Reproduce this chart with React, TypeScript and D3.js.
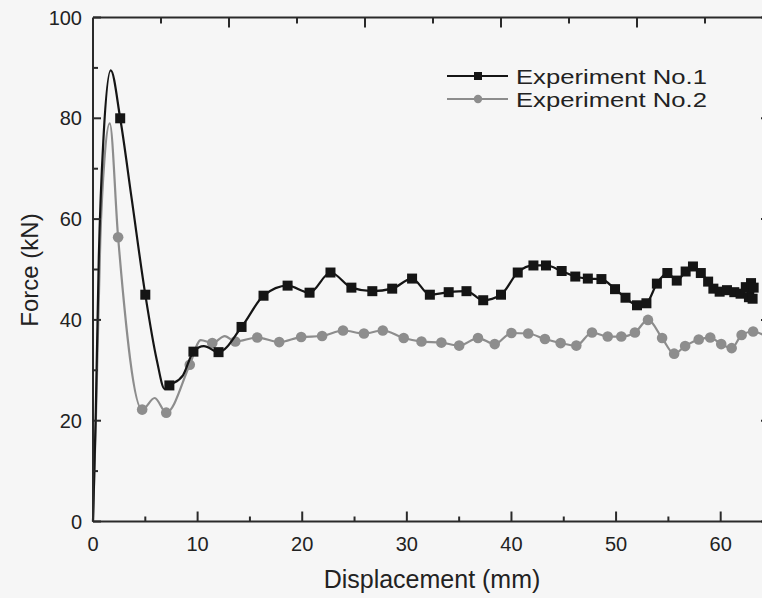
import React from "react";
import * as d3 from "d3";

// [displacement mm, force kN, marker?]
const exp1: [number, number, number][] = [
  [0, 0, 0], [0.25, 20, 0], [0.55, 52, 0], [1.0, 76, 0], [1.7, 89.5, 0], [2.6, 80, 1],
  [3.7, 64, 0], [5.0, 45, 1], [6.1, 32, 0], [6.85, 26.3, 0], [7.3, 27, 1], [8.6, 29, 0],
  [9.6, 33.7, 1], [10.6, 34.8, 0], [12.0, 33.6, 1], [14.2, 38.6, 1], [16.3, 44.8, 1],
  [18.6, 46.8, 1], [20.7, 45.4, 1], [22.7, 49.4, 1], [24.7, 46.4, 1], [26.7, 45.7, 1],
  [28.6, 46.2, 1], [30.5, 48.2, 1], [32.2, 45.0, 1], [34.0, 45.5, 1], [35.7, 45.7, 1],
  [37.3, 43.9, 1], [39.0, 45.0, 1], [40.6, 49.4, 1], [42.1, 50.8, 1], [43.3, 50.8, 1],
  [44.8, 49.7, 1], [46.1, 48.6, 1], [47.3, 48.2, 1], [48.6, 48.1, 1], [49.9, 46.1, 1],
  [50.9, 44.4, 1], [52.0, 42.9, 1], [52.9, 43.3, 1], [53.9, 47.2, 1], [54.9, 49.3, 1],
  [55.8, 47.8, 1], [56.65, 49.6, 1], [57.35, 50.6, 1], [58.1, 49.3, 1], [58.8, 47.6, 1],
  [59.3, 46.2, 1], [59.9, 45.6, 1], [60.6, 45.9, 1], [61.3, 45.5, 1], [61.9, 45.2, 1],
  [62.4, 46.5, 1], [62.7, 44.5, 1], [62.9, 47.3, 1], [63.05, 44.2, 1], [63.15, 46.4, 1],
];

const exp2: [number, number, number][] = [
  [0, 0, 0], [0.3, 22, 0], [0.7, 56, 0], [1.1, 72, 0], [1.6, 79, 0], [2.4, 56.4, 1],
  [4.7, 22.2, 1], [5.9, 24.5, 0], [7.0, 21.6, 1], [9.25, 31.1, 1],
  [10.3, 36, 0], [11.4, 35.4, 1], [12.6, 36.8, 0], [13.6, 35.7, 1], [15.7, 36.5, 1],
  [17.8, 35.6, 1], [19.9, 36.6, 1], [21.9, 36.8, 1], [23.9, 37.9, 1], [25.9, 37.3, 1],
  [27.7, 37.9, 1], [29.7, 36.4, 1], [31.4, 35.7, 1], [33.3, 35.5, 1], [35.0, 34.9, 1],
  [36.8, 36.4, 1], [38.4, 35.2, 1], [40.0, 37.4, 1], [41.6, 37.3, 1], [43.2, 36.2, 1],
  [44.7, 35.4, 1], [46.2, 34.9, 1], [47.7, 37.5, 1], [49.2, 36.7, 1], [50.5, 36.7, 1],
  [51.8, 37.5, 1], [53.05, 40.0, 1], [54.4, 36.4, 1], [55.55, 33.3, 1], [56.6, 34.8, 1],
  [57.9, 36.1, 1], [59.0, 36.5, 1], [60.05, 35.2, 1], [61.05, 34.4, 1], [62.0, 37.0, 1],
  [63.1, 37.7, 1], [64.5, 36.5, 0],
];

const xTicks = [0, 10, 20, 30, 40, 50, 60];
const xMinorTicks = [5, 15, 25, 35, 45, 55];
const yTicks = [0, 20, 40, 60, 80, 100];
const yMinorTicks = [10, 30, 50, 70, 90];
const topTicks = [6.5, 13, 19.5, 26, 32.5, 39, 45.5, 52, 58.5];
const legendLabels = ["Experiment No.1", "Experiment No.2"];
const xTitle = "Displacement (mm)";
const yTitle = "Force (kN)";

const W = 762;
const H = 598;
const left = 93;
const right = 773;
const top = 17.5;
const bottom = 521.5;
const FONT = "'Liberation Sans', Arial, Helvetica, sans-serif";
const BLACK = "#151515";
const GRAY = "#8d8d8d";
const AXIS = "#2a2a2a";

export default function App() {
  const x = d3.scaleLinear().domain([0, 65]).range([left, right]);
  const y = d3.scaleLinear().domain([0, 100]).range([bottom, top]);
  const line = d3
    .line<[number, number, number]>()
    .x((d) => x(d[0]))
    .y((d) => y(d[1]))
    .curve(d3.curveMonotoneX);

  return (
    <div style={{ position: "absolute", left: 0, top: 0, width: W, height: H, overflow: "hidden" }}>
      <svg width={W} height={H} style={{ display: "block" }} fontFamily={FONT}>
        <rect x={0} y={0} width={W} height={H} fill="#f6f6f6" />
        {/* series */}
        <path d={line(exp2) || ""} fill="none" stroke={GRAY} strokeWidth={2.2} />
        {exp2
          .filter((d) => d[2])
          .map((d, i) => (
            <circle key={"c" + i} cx={x(d[0])} cy={y(d[1])} r={5.3} fill={GRAY} />
          ))}
        <path d={line(exp1) || ""} fill="none" stroke={BLACK} strokeWidth={2.2} />
        {exp1
          .filter((d) => d[2])
          .map((d, i) => (
            <rect key={"s" + i} x={x(d[0]) - 5} y={y(d[1]) - 5} width={10} height={10} fill={BLACK} />
          ))}
        {/* axes frame */}
        <line x1={left} x2={right} y1={bottom} y2={bottom} stroke={AXIS} strokeWidth={2} />
        <line x1={left} x2={right} y1={top} y2={top} stroke={AXIS} strokeWidth={2} />
        <line x1={left} x2={left} y1={top} y2={bottom} stroke={AXIS} strokeWidth={2} />
        <line x1={right} x2={right} y1={top} y2={bottom} stroke={AXIS} strokeWidth={2} />
        {xTicks.map((t) => (
          <g key={"xt" + t}>
            <line x1={x(t)} x2={x(t)} y1={bottom} y2={bottom - 10} stroke={AXIS} strokeWidth={2} />
            <text x={x(t)} y={551} fontSize={20} textAnchor="middle" fill="#222">
              {t}
            </text>
          </g>
        ))}
        {xMinorTicks.map((t) => (
          <line key={"xm" + t} x1={x(t)} x2={x(t)} y1={bottom} y2={bottom - 5} stroke={AXIS} strokeWidth={2} />
        ))}
        {topTicks.map((t, i) => (
          <line key={"tt" + t} x1={x(t)} x2={x(t)} y1={top} y2={top + (i % 2 === 1 ? 10 : 6)} stroke={AXIS} strokeWidth={2} />
        ))}
        {yTicks.map((t) => (
          <g key={"yt" + t}>
            <line x1={left} x2={left + 8} y1={y(t)} y2={y(t)} stroke={AXIS} strokeWidth={2} />
            <line x1={right} x2={right - 12} y1={y(t)} y2={y(t)} stroke={AXIS} strokeWidth={2} />
            <text x={82} y={y(t) + 7} fontSize={20} textAnchor="end" fill="#222">
              {t}
            </text>
          </g>
        ))}
        {yMinorTicks.map((t) => (
          <line key={"ym" + t} x1={left} x2={left + 5} y1={y(t)} y2={y(t)} stroke={AXIS} strokeWidth={2} />
        ))}
        {/* titles */}
        <text x={432} y={588} fontSize={25} textAnchor="middle" fill="#222">
          {xTitle}
        </text>
        <text transform="translate(38,270) rotate(-90)" fontSize={24} textAnchor="middle" fill="#222">
          {yTitle}
        </text>
        {/* legend */}
        {legendLabels.map((lab, i) => {
          const ly = 76 + i * 23;
          const col = i === 0 ? BLACK : GRAY;
          return (
            <g key={lab}>
              <line x1={447} x2={508} y1={ly} y2={ly} stroke={col} strokeWidth={2.2} />
              {i === 0 ? (
                <rect x={474} y={ly - 4} width={8} height={8} fill={col} />
              ) : (
                <circle cx={478} cy={ly} r={4.2} fill={col} />
              )}
              <text
                x={516}
                y={ly + 7.5}
                fontSize={21}
                textLength={191}
                lengthAdjust="spacingAndGlyphs"
                fill="#222"
              >
                {lab}
              </text>
            </g>
          );
        })}
      </svg>
    </div>
  );
}
